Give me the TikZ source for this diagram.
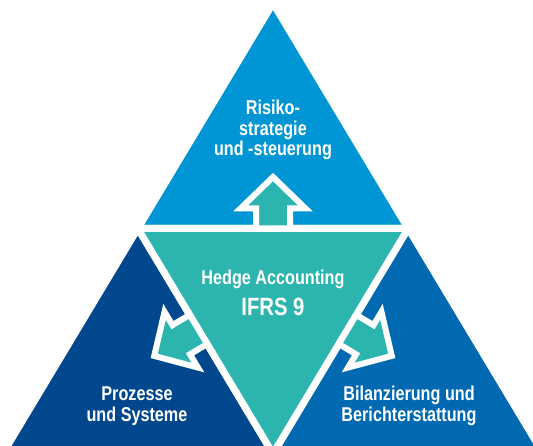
\documentclass[tikz,border=0pt]{standalone}
\usepackage{fontspec}
\setmainfont{Liberation Sans}[FakeStretch=0.81]

\definecolor{toptri}{RGB}{0,150,214}
\definecolor{midtri}{RGB}{44,181,174}
\definecolor{lefttri}{RGB}{0,71,142}
\definecolor{righttri}{RGB}{0,105,178}

\tikzset{
  part/.style={draw=white,line width=7pt,line join=miter},
  blockarrow/.style={draw=white,fill=midtri,line width=6pt,line join=miter},
  lbl/.style={white,anchor=base,inner sep=0pt,font=\bfseries\fontsize{20}{22}\selectfont},
  biglbl/.style={lbl,font=\bfseries\fontsize{25}{28}\selectfont}
}

\begin{document}
\begin{tikzpicture}[x=1pt,y=-1pt]
  \useasboundingbox (0,0) rectangle (533,446);
  \clip (0,0) rectangle (533,446);
  % corners of the big triangle and the midpoints of its sides
  \coordinate (A)  at (273,3.25);
  \coordinate (ML) at (137.85,228.5);
  \coordinate (MR) at (408.15,228.5);
  \coordinate (BL) at (2.7,453.75);
  \coordinate (BM) at (273,453.75);
  \coordinate (BR) at (543.3,453.75);
  % the four parts, white stroke gives the gaps
  \filldraw[part,fill=toptri]   (A)  -- (ML) -- (MR) -- cycle;
  \filldraw[part,fill=lefttri]  (ML) -- (BL) -- (BM) -- cycle;
  \filldraw[part,fill=righttri] (MR) -- (BM) -- (BR) -- cycle;
  \filldraw[part,fill=midtri]   (ML) -- (MR) -- (BM) -- cycle;
  % block arrows out of the middle part
  \foreach \bx/\by/\ang in {273/228.5/0, 198.4/329.4/120.96, 347.6/329.4/-120.96}
    \filldraw[blockarrow,shift={(\bx,\by)},rotate=\ang]
      (-17,0) -- (-17,-20) -- (-32.5,-20) -- (0,-51.5) -- (32.5,-20) -- (17,-20) -- (17,0) -- cycle;
  % texts
  \node[lbl] (risk1) at (273,115)   {Risiko-};
  \node[lbl] (risk2) at (273,135.5) {strategie};
  \node[lbl] (risk3) at (273,156)   {und -steuerung};
  \node[lbl]    (hedge) at (273,285) {Hedge Accounting};
  \node[biglbl] (ifrs)  at (273,316) {IFRS 9};
  \node[lbl] (proc1) at (137,400) {Prozesse};
  \node[lbl] (proc2) at (137,421) {und Systeme};
  \node[lbl] (bil1)  at (409,400) {Bilanzierung und};
  \node[lbl] (bil2)  at (409,421) {Berichterstattung};
\end{tikzpicture}
\end{document}
